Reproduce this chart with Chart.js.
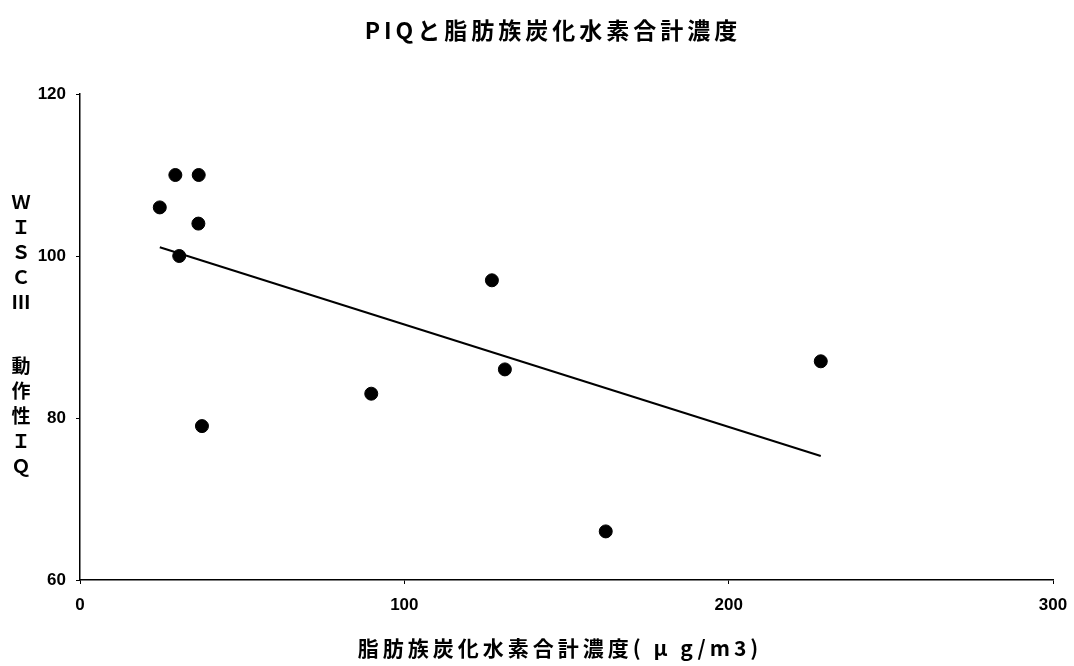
<!DOCTYPE html>
<html>
<head>
<meta charset="utf-8">
<script src="https://cdn.jsdelivr.net/npm/chart.js@4/dist/chart.umd.min.js"></script>
<style>
  html, body { margin: 0; padding: 0; background: #fff; }
  #wrap { width: 1074px; height: 666px; position: relative; }
</style>
</head>
<body>
<div id="wrap"><canvas id="c" width="1074" height="666"></canvas></div>
<script>
// Measured samples: total aliphatic hydrocarbon concentration vs. WISC-III performance IQ
const concentration = [24.6, 29.4, 36.6, 36.5, 30.6, 37.6, 89.8, 127.0, 131.0, 162.1, 228.4];
const piq = [106, 110, 110, 104, 100, 79, 83, 97, 86, 66, 87];

const xTicks = [0, 100, 200, 300];
const yTicks = [60, 80, 100, 120];

const chartTitle = 'PIQと脂肪族炭化水素合計濃度';
const xTitle = '脂肪族炭化水素合計濃度( μ g/m3)';
const yTitleUpper = ['Ｗ', 'Ｉ', 'Ｓ', 'Ｃ', 'Ⅲ'];
const yTitleLower = ['動', '作', '性', 'Ｉ', 'Ｑ'];

// Least-squares fit drawn across the observed concentration range
function linearFit(xs, ys) {
  const n = xs.length;
  const mx = xs.reduce((a, b) => a + b, 0) / n;
  const my = ys.reduce((a, b) => a + b, 0) / n;
  let sxy = 0, sxx = 0;
  for (let i = 0; i < n; i++) {
    sxy += (xs[i] - mx) * (ys[i] - my);
    sxx += (xs[i] - mx) * (xs[i] - mx);
  }
  const slope = sxy / sxx;
  return { slope, intercept: my - slope * mx };
}
const fit = linearFit(concentration, piq);
const xMin = Math.min(...concentration);
const xMax = Math.max(...concentration);
const trend = [xMin, xMax].map(x => ({ x, y: fit.intercept + fit.slope * x }));

const points = concentration.map((x, i) => ({ x, y: piq[i] }));

const tickFont = { family: '"Liberation Sans", Arial, sans-serif', size: 17, weight: 'bold' };
const cjkFont = '"Noto Sans CJK JP", "Noto Sans", sans-serif';

// Titles: main heading, x-axis caption and the vertically stacked y-axis caption
const titlesPlugin = {
  id: 'titles',
  afterDraw(chart) {
    const ctx = chart.ctx;
    ctx.save();
    ctx.fillStyle = '#000';
    ctx.textAlign = 'center';
    ctx.textBaseline = 'middle';

    ctx.font = 'bold 23px ' + cjkFont;
    ctx.letterSpacing = '4px';
    ctx.fillText(chartTitle, 553, 30);

    ctx.font = 'bold 21px ' + cjkFont;
    ctx.letterSpacing = '4px';
    ctx.fillText(xTitle, 560, 648);

    ctx.letterSpacing = '0px';
    ctx.font = 'bold 19px ' + cjkFont;
    yTitleUpper.forEach((ch, i) => ctx.fillText(ch, 21, 202 + i * 25));
    yTitleLower.forEach((ch, i) => ctx.fillText(ch, 21, 366 + i * 25));
    ctx.restore();
  }
};

new Chart(document.getElementById('c'), {
  type: 'scatter',
  data: {
    datasets: [
      {
        type: 'scatter',
        data: points,
        backgroundColor: '#000',
        borderColor: '#000',
        pointRadius: 6.5,
        pointHoverRadius: 6.5,
        order: 1
      },
      {
        type: 'line',
        data: trend,
        borderColor: '#000',
        borderWidth: 2,
        pointRadius: 0,
        fill: false,
        order: 2
      }
    ]
  },
  options: {
    responsive: false,
    animation: false,
    devicePixelRatio: 1,
    layout: { padding: { top: 94, right: 21, left: 0, bottom: 0 } },
    plugins: {
      legend: { display: false },
      tooltip: { enabled: false },
      title: { display: false }
    },
    scales: {
      x: {
        type: 'linear',
        min: 0,
        max: 300,
        afterBuildTicks(scale) { scale.ticks = xTicks.map(v => ({ value: v })); },
        afterFit(scale) {
          scale.height = 86;
          scale.paddingLeft = 0;
          scale.paddingRight = 0;
        },
        border: { display: true, color: '#000', width: 1.5 },
        grid: { drawOnChartArea: false, drawTicks: true, tickLength: 4, color: '#000' },
        ticks: { color: '#000', font: tickFont, padding: 11, maxRotation: 0 }
      },
      y: {
        type: 'linear',
        min: 60,
        max: 120,
        afterBuildTicks(scale) { scale.ticks = yTicks.map(v => ({ value: v })); },
        afterFit(scale) { scale.width = 80; },
        border: { display: true, color: '#000', width: 1.5 },
        grid: { drawOnChartArea: false, drawTicks: true, tickLength: 4, color: '#000' },
        ticks: { color: '#000', font: tickFont, padding: 10 }
      }
    }
  },
  plugins: [titlesPlugin]
});
</script>
</body>
</html>
